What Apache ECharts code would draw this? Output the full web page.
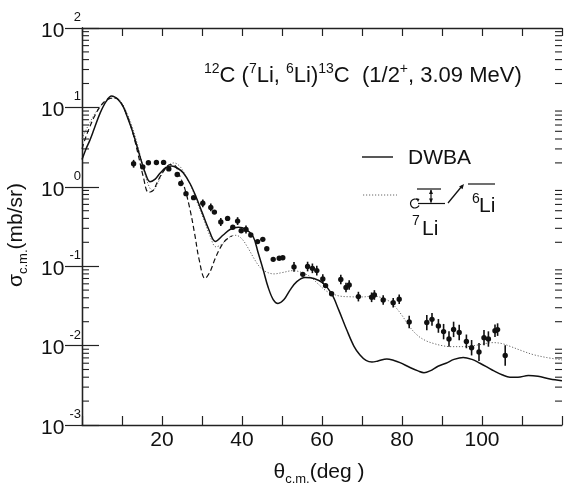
<!DOCTYPE html>
<html><head><meta charset="utf-8">
<script src="https://cdn.jsdelivr.net/npm/echarts@6/dist/echarts.min.js"></script>
<style>html,body{margin:0;padding:0;background:#fff}#c{width:566px;height:487px}</style>
</head><body><div id="c"></div>
<script>
// DWBA (solid)
const dwbaX = [0,1,2,3,4.5,6,7.4,9,10.3,11.5,12.8,14.5,15.8,17,18.3,19.5,21,22.4,24,25.3,27,28.5,30,31.7,33.3,35.3,37,39.1,41,42.8,44,45.3,46.5,47.8,49,50.5,52,53.7,55.75,58,60.3,62.4,64.2,66.2,68,69.5,71,72.5,74,76.2,78,79.5,82,84,85.5,87,89,91,93,95.3,97.5,99.5,101.2,103,105,107,109,111.6,114,117,120];
const dwbaY = [2.2,3.0,3.9,5.3,8.4,11.8,13.9,12.6,10.2,7.2,4.7,2.4,1.5,1.16,1.25,1.48,1.75,1.83,1.7,1.5,1.1,0.75,0.48,0.29,0.205,0.247,0.29,0.31,0.29,0.235,0.15,0.09,0.055,0.038,0.034,0.038,0.05,0.064,0.072,0.07,0.061,0.045,0.028,0.0157,0.0098,0.0076,0.0065,0.0062,0.0064,0.0068,0.0065,0.0061,0.0053,0.0048,0.00456,0.0048,0.0055,0.006,0.0067,0.0071,0.0067,0.006,0.0054,0.0048,0.0043,0.004,0.004,0.0042,0.0041,0.0038,0.0036];
// dotted curve
const dotX = [0,1,2,3,4.5,6,7,8.2,9.5,11,12.5,14,15.5,16.8,17.6,18.5,20,21.5,23,24.5,26,27.5,29,30.5,32,33.5,35,37,38.5,40,41.5,43,44.5,46,48,50,52.8,55,57,59,61,62.5,64.5,67,70,72.8,75,77,78.5,80,82,84,86,88,90,92,96,99,102.8,105,107,110,112.8,116,120];
const dotY = [4.0,5.2,6.5,8,10.2,12,12.8,13.1,12.2,9,5.8,3.2,1.6,1.0,0.9,1.0,1.45,1.85,2.0,1.8,1.35,0.95,0.6,0.38,0.24,0.175,0.19,0.235,0.245,0.22,0.17,0.125,0.097,0.085,0.08,0.083,0.088,0.083,0.074,0.06,0.049,0.045,0.042,0.0412,0.041,0.042,0.04,0.0357,0.03,0.024,0.017,0.0133,0.0115,0.0106,0.01,0.0097,0.0097,0.0102,0.0109,0.0106,0.0098,0.0086,0.0077,0.0071,0.0066];
// dashed curve
const dashX = [0,1,2,3,4.5,6,7,8.2,9.5,11,12.5,14,15.3,16.6,17.8,19,20.5,22,23.3,24.5,25.7,27,28.2,29.3,30.75,32,33.3,34.7,36,37.5];
const dashY = [3.0,4.3,5.8,7.5,10.2,12.3,13,13.2,12,8.5,5.2,2.6,1.35,0.85,0.9,1.2,1.6,1.9,1.85,1.35,0.95,0.52,0.25,0.12,0.07,0.085,0.125,0.175,0.215,0.24];
// experimental points (angle, cross section, error factor)
const expX = [12.9,15.2,16.6,18.6,20.4,21.7,23.8,24.7,26.0,27.9,30.2,32.2,33.1,34.7,36.4,37.7,38.9,39.8,41.0,42.2,43.9,45.2,46.2,47.8,49.3,50.2,53.0,55.2,56.4,57.6,58.7,60.2,60.9,62.4,64.7,66.0,66.8,69.1,72.4,73.1,75.3,77.8,79.3,81.8,86.2,87.5,89.1,90.4,91.75,92.9,94.3,96.1,97.4,99.25,100.5,101.6,103.25,103.9,105.8];
const expY = [1.95,1.78,2.01,2.02,2.03,1.68,1.43,1.1,0.82,0.73,0.62,0.55,0.48,0.36,0.40,0.31,0.37,0.28,0.29,0.247,0.204,0.218,0.166,0.122,0.126,0.128,0.098,0.079,0.099,0.094,0.088,0.069,0.057,0.045,0.068,0.054,0.058,0.0414,0.0406,0.0434,0.0375,0.0347,0.0383,0.0198,0.0195,0.0214,0.0177,0.015,0.0121,0.016,0.0146,0.0113,0.0094,0.0083,0.0126,0.0121,0.0154,0.0159,0.0075];
const expErr = [1.12,1,1,1,1,1,1,1,1,1,1.12,1.12,1,1.12,1,1,1.12,1,1.12,1,1,1,1,1,1,1,1.15,1,1.15,1.15,1.15,1.15,1,1,1.15,1.15,1.15,1.15,1.15,1.15,1.15,1.15,1.15,1.2,1.25,1.2,1.22,1.25,1.25,1.25,1.25,1.22,1.25,1.3,1.25,1.25,1.2,1.2,1.35];
// axis ticks
const xTickLabels = [20,40,60,80,100];
const decades = [-3,-2,-1,0,1];
const mantissas = [2,3,4,5,6,7,8,9];

const FONT = 'Liberation Sans, Arial, Helvetica, sans-serif';
const INK = '#111';
const zip = (a,b) => a.map((v,i)=>[v,b[i]]);
const minorVals = [];
decades.forEach(d => mantissas.forEach(m => minorVals.push([0, m*Math.pow(10,d)])));

const chart = echarts.init(document.getElementById('c'), null, {renderer:'canvas'});
const axisCommon = {axisLine:{show:true,lineStyle:{color:'#222',width:1.3}}, splitLine:{show:false}};
const txt = (size, extra) => Object.assign({fontSize:size,fontFamily:FONT,color:INK,fontWeight:'normal'}, extra||{});
chart.setOption({
  animation:false,
  backgroundColor:'#fff',
  title:{
    text:'{s|12}{m|C (}{s|7}{m|Li, }{s|6}{m|Li)}{s|13}{m|C  (1/2}{s|+}{m|, 3.09 MeV)}',
    left:204, top:62, padding:0,
    textStyle:{fontWeight:'normal',rich:{
      m:txt(22,{lineHeight:27,verticalAlign:'middle'}),
      s:txt(14,{lineHeight:14,verticalAlign:'top'})
    }}
  },
  grid:{left:82,right:4,top:28,bottom:62,containLabel:false,outerBoundsMode:'none'},
  xAxis:[{
    type:'value',min:0,max:120,interval:10,position:'bottom',
    ...axisCommon,
    axisTick:{show:true,inside:true,length:9,lineStyle:{color:'#222',width:1.2}},
    axisLabel:{fontSize:21,fontFamily:FONT,color:INK,margin:5,
      formatter:v=> xTickLabels.indexOf(v)>=0 ? String(v) : ''},
    name:'{t|θ}{s|c.m.}{t|(deg )}',nameLocation:'middle',nameGap:37,
    nameTextStyle:{rich:{
      t:txt(21,{lineHeight:24,verticalAlign:'top'}),
      s:txt(13,{lineHeight:10,verticalAlign:'bottom'})
    },padding:[0,6,0,0]}
  },{
    type:'value',min:0,max:120,interval:10,position:'top',
    ...axisCommon,
    axisTick:{show:true,inside:true,length:8,lineStyle:{color:'#222',width:1.2}},
    axisLabel:{show:false}
  }],
  yAxis:[{
    type:'log',logBase:10,min:0.001,max:100,position:'left',
    ...axisCommon,
    axisTick:{show:true,inside:true,length:17,lineStyle:{color:'#222',width:1.2}},
    axisLabel:{margin:1,
      formatter:v=>'{e|'+Math.round(Math.log10(v))+'}\n{b|10}',
      rich:{
        e:txt(13,{lineHeight:6,width:16,align:'right'}),
        b:txt(21,{lineHeight:21,width:40,align:'left'})
      }},
    name:'{s|σ}{c|c.m.}{s|(mb/sr)}',nameLocation:'middle',nameGap:45,nameRotate:90,
    nameTextStyle:{rich:{
      s:txt(21,{lineHeight:24,verticalAlign:'top'}),
      c:txt(13,{lineHeight:8,verticalAlign:'bottom'})
    },padding:[0,17,0,0]}
  },{
    type:'log',logBase:10,min:0.001,max:100,position:'right',
    ...axisCommon,
    axisTick:{show:true,inside:true,length:17,lineStyle:{color:'#222',width:1.2}},
    axisLabel:{show:false}
  }],
  series:[
    {type:'line',name:'DWBA',data:zip(dwbaX,dwbaY),smooth:0.35,symbol:'none',
      lineStyle:{color:INK,width:1.5},z:3},
    {type:'line',name:'dotted',data:zip(dotX,dotY),smooth:0.35,symbol:'none',
      lineStyle:{color:'#666',width:1,type:[1.2,1.8]},z:2},
    {type:'line',name:'dashed',data:zip(dashX,dashY),smooth:0.35,symbol:'none',
      lineStyle:{color:INK,width:1.2,type:[5,3]},z:2},
    {type:'custom',name:'data',coordinateSystem:'cartesian2d',z:5,
      data:expX.map((x,i)=>[x,expY[i],expErr[i]]),
      encode:{x:0,y:1},
      renderItem:(params,api)=>{
        const x=api.value(0), y=api.value(1), f=api.value(2);
        const p=api.coord([x,y]);
        const ch=[{type:'circle',shape:{cx:p[0],cy:p[1],r:2.7},style:{fill:INK}}];
        if(f>1){
          const a=api.coord([x,y*f]), b=api.coord([x,y/f]);
          ch.push({type:'line',shape:{x1:p[0],y1:a[1],x2:p[0],y2:b[1]},style:{stroke:INK,lineWidth:1.6}});
        }
        return {type:'group',children:ch};
      }},
    {type:'custom',name:'minor',coordinateSystem:'cartesian2d',silent:true,z:1,
      data:minorVals,encode:{x:0,y:1},
      renderItem:(params,api)=>{
        const p=api.coord([api.value(0),api.value(1)]);
        const cs=params.coordSys;
        return {type:'group',children:[
          {type:'line',shape:{x1:cs.x,y1:p[1],x2:cs.x+7,y2:p[1]},style:{stroke:'#222',lineWidth:1.1}},
          {type:'line',shape:{x1:cs.x+cs.width-7,y1:p[1],x2:cs.x+cs.width,y2:p[1]},style:{stroke:'#222',lineWidth:1.1}}
        ]};
      }}
  ],
  graphic:[
    {type:'line',shape:{x1:362,y1:157,x2:393,y2:157},style:{stroke:INK,lineWidth:1.4}},
    {type:'text',x:408,y:158,style:{text:'DWBA',fontSize:21,fontFamily:FONT,fill:INK,verticalAlign:'middle'}},
    {type:'line',shape:{x1:363,y1:195,x2:397,y2:195},style:{stroke:'#666',lineWidth:1,lineDash:[1.2,1.8]}},
    // level scheme
    {type:'line',shape:{x1:417,y1:189,x2:441,y2:189},style:{stroke:INK,lineWidth:1.2}},
    {type:'line',shape:{x1:418,y1:203.5,x2:445,y2:203.5},style:{stroke:INK,lineWidth:1.2}},
    {type:'line',shape:{x1:431,y1:190,x2:431,y2:202.5},style:{stroke:INK,lineWidth:1.2}},
    {type:'polygon',shape:{points:[[431,189.5],[429,194],[433,194]]},style:{fill:INK}},
    {type:'polygon',shape:{points:[[431,203],[429,198.5],[433,198.5]]},style:{fill:INK}},
    {type:'arc',shape:{cx:415,cy:203.5,r:4.5,startAngle:-Math.PI*0.3,endAngle:Math.PI*0.15,clockwise:false},style:{stroke:INK,lineWidth:1.2,fill:null}},
    {type:'polygon',shape:{points:[[419.5,199],[416,198],[418,202]]},style:{fill:INK}},
    {type:'line',shape:{x1:448,y1:203,x2:462,y2:186},style:{stroke:INK,lineWidth:1.3}},
    {type:'polygon',shape:{points:[[464,184],[462.5,189.2],[459.1,186.4]]},style:{fill:INK}},
    {type:'line',shape:{x1:468,y1:184,x2:495,y2:184},style:{stroke:INK,lineWidth:1.2}},
    {type:'text',x:472,y:199,style:{text:'6',fontSize:14,fontFamily:FONT,fill:INK,verticalAlign:'middle'}},
    {type:'text',x:479,y:206,style:{text:'Li',fontSize:21,fontFamily:FONT,fill:INK,verticalAlign:'middle'}},
    {type:'text',x:412,y:221,style:{text:'7',fontSize:14,fontFamily:FONT,fill:INK,verticalAlign:'middle'}},
    {type:'text',x:422,y:229,style:{text:'Li',fontSize:21,fontFamily:FONT,fill:INK,verticalAlign:'middle'}}
  ]
});
</script>
</body></html>
